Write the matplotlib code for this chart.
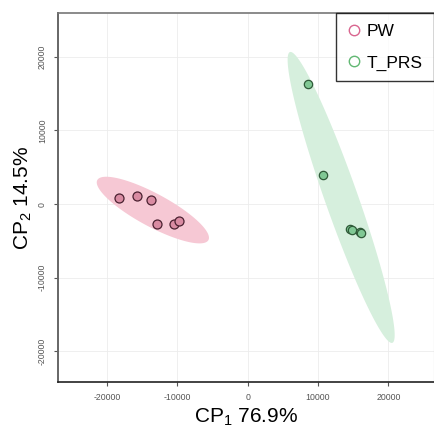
import numpy as np
import matplotlib
matplotlib.use("Agg")
import matplotlib.pyplot as plt
from matplotlib.lines import Line2D

plt.rcParams['font.family'] = ['Liberation Sans', 'DejaVu Sans']
plt.rcParams['mathtext.fontset'] = 'custom'
plt.rcParams['mathtext.rm'] = 'Liberation Sans'
plt.rcParams['mathtext.it'] = 'Liberation Sans'
plt.rcParams['mathtext.default'] = 'rm'

# PCA scores per group
groups = ['PW', 'T_PRS']
pw_x = [-18300, -15800, -13700, -12850, -10450, -9700]
pw_y = [850, 1100, 500, -2750, -2750, -2300]
tprs_x = [8600, 10700, 14550, 14850, 15900, 16150]
tprs_y = [16350, 3900, -3450, -3500, -3850, -3950]

# confidence ellipses: centre, semi-major vector, semi-minor vector (data units)
ell_centre = [(-13480, -815), (13290, 900)]
ell_major = [(7900, -4075), (7280, -19750)]
ell_minor = [(1115, 1970), (2215, 745)]

x_ticks = [-20000, -10000, 0, 10000, 20000]
y_ticks = [-20000, -10000, 0, 10000, 20000]
var_pc1 = 76.9
var_pc2 = 14.5

fill_cols = ['#f6c8d4', '#d6efdd']
pt_cols = ['#d98ba2', '#80c894']
edge_cols = ['#4a2030', '#2f5a38']
leg_cols = ['#d9668f', '#62b873']

fig = plt.figure(figsize=(4.34, 4.32), dpi=100)
ax = fig.add_axes([0.1336, 0.1157, 0.8654, 0.8542])

t = np.linspace(0, 2 * np.pi, 200)
for i in range(2):
    cx, cy = ell_centre[i]
    ex = cx + ell_major[i][0] * np.cos(t) + ell_minor[i][0] * np.sin(t)
    ey = cy + ell_major[i][1] * np.cos(t) + ell_minor[i][1] * np.sin(t)
    ax.fill(ex, ey, color=fill_cols[i], lw=0, zorder=1)

ax.scatter(pw_x, pw_y, s=42, c=pt_cols[0], edgecolors=edge_cols[0], linewidths=0.9, zorder=3)
ax.scatter(tprs_x, tprs_y, s=36, c=pt_cols[1], edgecolors=edge_cols[1], linewidths=0.9, zorder=3)

ax.set_xlim(-26970, 26430)
ax.set_ylim(-24170, 25950)
ax.set_xticks(x_ticks)
ax.set_yticks(y_ticks)
ax.set_xticklabels([str(v) for v in x_ticks], fontsize=6.3, color='#555555')
ax.set_yticklabels([str(v) for v in y_ticks], fontsize=6.3, color='#555555',
                   rotation=90, va='center')
ax.tick_params(axis='both', length=3, width=0.8, color='#555555', pad=5)
ax.grid(True, color='#ececec', lw=0.6, zorder=0)
ax.set_axisbelow(True)

ax.spines['left'].set_color('#666666')
ax.spines['left'].set_linewidth(1.4)
ax.spines['bottom'].set_color('#222222')
ax.spines['bottom'].set_linewidth(1.2)
ax.spines['top'].set_color('#777777')
ax.spines['top'].set_linewidth(1.2)
ax.spines['right'].set_color('#bbbbbb')
ax.spines['right'].set_linewidth(0.8)

ax.set_xlabel('CP$_1$ %.1f%%' % var_pc1, fontsize=15, labelpad=3)
ax.set_ylabel('CP$_2$ %.1f%%' % var_pc2, fontsize=15, labelpad=3)

handles = [Line2D([], [], ls='', marker='o', mfc='none', mec=leg_cols[i],
                  ms=7.5, mew=1.0, label=groups[i]) for i in range(2)]
leg = ax.legend(handles=handles, loc='upper right', fontsize=12.5, frameon=True,
                fancybox=False, borderaxespad=0, handletextpad=0.35,
                handlelength=0.8, borderpad=0.62, labelspacing=0.95)
leg.get_frame().set_edgecolor('black')
leg.get_frame().set_linewidth(1.0)

fig.savefig('out.png', dpi=100)
